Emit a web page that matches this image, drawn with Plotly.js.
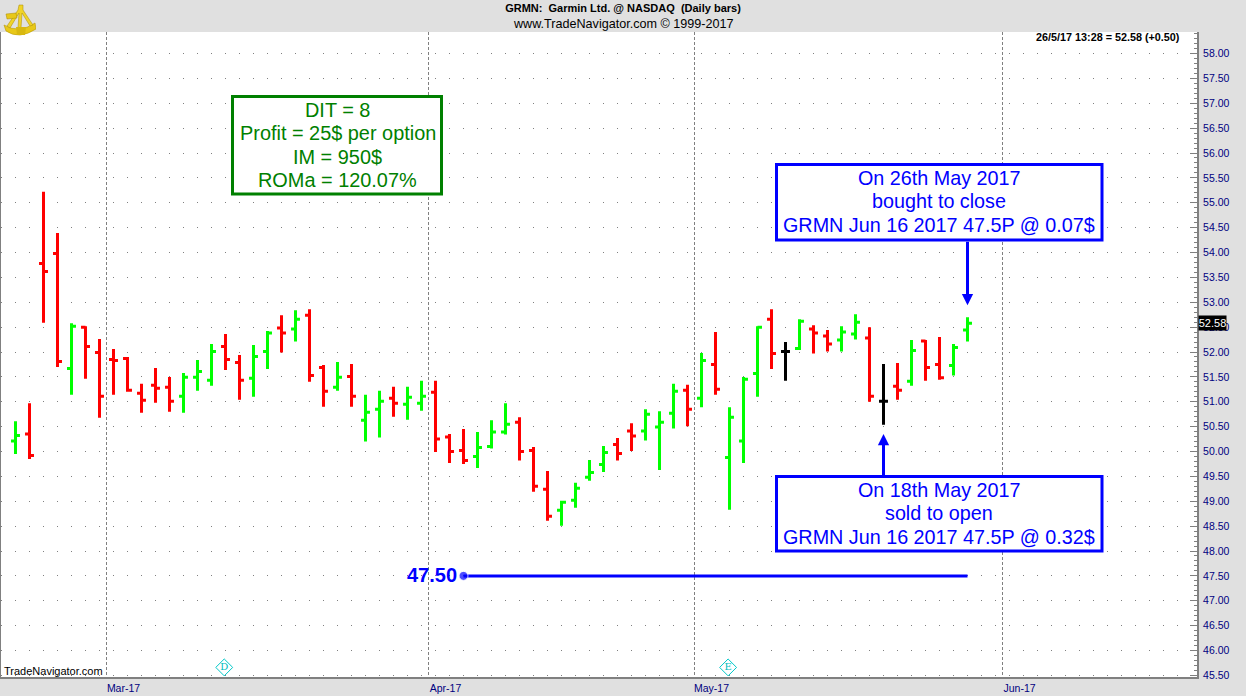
<!DOCTYPE html>
<html>
<head>
<meta charset="utf-8">
<script src="https://cdn.plot.ly/plotly-3.0.1.min.js"></script>
<style>html,body{margin:0;padding:0;background:#e0e0e0}#chart{width:1246px;height:696px}</style>
</head>
<body>
<div id="chart"></div>
<script>
// Daily bars, one per trading session, 0 = first bar on the chart
const opens = [50.21,50.35,53.78,53.98,51.67,52.50,51.99,51.85,51.87,51.17,51.33,51.29,51.11,51.49,51.43,52.11,51.79,51.47,52.01,52.48,52.46,52.74,51.69,51.29,51.51,50.63,50.85,51.07,50.95,50.97,51.19,50.29,50.02,49.90,50.10,50.39,50.59,50.02,49.24,48.82,49.02,49.48,49.74,50.14,50.41,50.41,50.49,50.77,51.23,51.07,51.75,49.88,50.21,51.57,52.66,52.01,52.07,52.46,52.32,52.24,52.36,52.28,51.01,51.31,51.41,52.22,51.75,51.73,52.44];
const highs = [50.61,50.97,55.22,54.39,52.58,52.52,52.26,52.06,51.90,51.36,51.68,51.50,51.58,51.84,52.16,52.36,51.94,52.14,52.42,52.74,52.84,52.86,51.74,51.80,51.76,51.14,51.22,51.30,51.30,51.42,51.42,50.35,50.45,50.39,50.63,50.97,50.69,50.09,49.61,49.01,49.37,49.83,50.11,50.27,50.57,50.85,50.81,51.36,51.34,51.98,52.40,50.89,51.50,52.52,52.86,52.20,52.66,52.54,52.44,52.52,52.76,52.50,51.76,51.78,52.24,52.24,52.30,52.16,52.70];
const lows = [49.95,49.85,52.59,51.70,51.14,51.46,50.68,51.14,51.20,50.78,50.98,50.80,50.78,51.22,51.32,51.64,51.04,51.10,51.66,51.99,52.21,51.40,50.90,51.22,50.90,50.20,50.28,50.70,50.64,50.82,49.99,49.77,49.75,49.67,50.06,50.34,49.82,49.19,48.61,48.51,48.87,49.41,49.59,49.82,50.01,50.22,49.63,50.46,50.51,50.89,51.14,48.83,49.77,51.10,51.66,51.42,52.04,51.97,52.01,52.01,52.25,51.00,50.54,51.04,51.32,51.42,51.44,51.53,52.21];
const closes = [50.32,49.92,53.62,51.81,52.52,52.11,51.11,51.83,51.23,51.03,51.27,51.01,51.49,51.61,52.01,51.85,51.43,51.91,52.38,52.38,52.66,51.53,51.21,51.49,51.11,50.79,51.01,50.97,51.09,51.11,50.25,50.00,49.82,50.08,50.39,50.55,50.00,49.30,48.70,48.98,49.26,49.58,49.98,49.96,50.31,50.75,50.59,51.21,50.85,51.83,51.25,50.69,51.45,52.50,51.97,52.01,52.62,52.38,52.16,52.40,52.60,51.11,51.01,51.23,52.03,51.69,51.48,52.09,52.58];

const monthTicks = [6.5, 29.5, 48.5, 70.5];
const monthLabels = ['Mar-17', 'Apr-17', 'May-17', 'Jun-17'];

const strikeX = [32, 68];
const strikeY = [47.5, 47.5];
const strikeLabel = '47.50';

const eventX = [14.91, 50.9];
const eventY = [45.66, 45.66];
const eventLabels = ['D', 'E'];

const greenLines = ['DIT = 8', 'Profit = 25$ per option', 'IM = 950$', 'ROMa = 120.07%'];
const closeLines = ['On 26th May 2017', 'bought to close', 'GRMN Jun 16 2017 47.5P @ 0.07$'];
const openLines = ['On 18th May 2017', 'sold to open', 'GRMN Jun 16 2017 47.5P @ 0.32$'];

const FONT = '"Liberation Sans", Arial, sans-serif';
const BG = '#e0e0e0', GRAY = '#808080', NAVY = '#000080', BLUE = '#0000ff', GREEN = '#008000';
const UP = '#00ff00', DOWN = '#ff0000';

// page pixel -> paper fraction, plot area spans x 1..1197, y 32..677
const PX = p => (p - 1) / 1196;
const PY = p => 1 - (p - 32) / 645;

const index = opens.map((_, i) => i);
function ohlcSubset(test, color, width) {
  const keep = index.filter(test);
  return {
    type: 'ohlc', x: keep, open: keep.map(i => opens[i]), high: keep.map(i => highs[i]),
    low: keep.map(i => lows[i]), close: keep.map(i => closes[i]),
    tickwidth: width, hoverinfo: 'skip', showlegend: false,
    increasing: {line: {color: color, width: 3}},
    decreasing: {line: {color: color, width: 3}}
  };
}

const traces = [
  ohlcSubset(i => closes[i] > opens[i], UP, 0.32),
  ohlcSubset(i => closes[i] < opens[i], DOWN, 0.32),
  ohlcSubset(i => closes[i] === opens[i], '#000000', 0.32),
  {type: 'scatter', mode: 'lines+markers', x: strikeX, y: strikeY, hoverinfo: 'skip', showlegend: false,
   line: {color: BLUE, width: 3}, marker: {color: BLUE, size: [9, 0]}},
  {type: 'scatter', mode: 'markers+text', x: eventX, y: eventY, text: eventLabels, textposition: 'middle center',
   textfont: {family: '"DejaVu Serif", serif', size: 10, color: '#00c0c0'}, hoverinfo: 'skip', showlegend: false,
   marker: {symbol: 'diamond-open', size: 13, color: '#00c8c8', line: {color: '#00c8c8', width: 1}}}
];

function box(x0, y0, x1, y1, color) {
  return {type: 'rect', xref: 'paper', yref: 'paper', x0: PX(x0), x1: PX(x1), y0: PY(y1), y1: PY(y0),
          fillcolor: '#ffffff', line: {color: color, width: 3}, layer: 'above'};
}
function label(text, px, py, size, color, opts) {
  return Object.assign({xref: 'paper', yref: 'paper', x: PX(px), y: PY(py), text: text, showarrow: false,
    xanchor: 'center', yanchor: 'middle', align: 'center', font: {family: FONT, size: size, color: color}}, opts || {});
}
function stacked(lines, px, rows, color, size) {
  return lines.map((t, i) => label(t, px, rows[i], size, color));
}

const sextant = `<svg xmlns="http://www.w3.org/2000/svg" width="34" height="34" viewBox="0 0 34 34">
<path d="M2 23 Q17 32 33 21 L34 27 Q17 38 4 29 Z" fill="#e8c818" stroke="#b89800" stroke-width=".6"/>
<path d="M17 3 L21 3 L21 8 L31 23 L28 24 L20 11 L19 26 L16 26 L17 11 L8 26 L5 24 L16 8 Z" fill="#f0d428" stroke="#a88800" stroke-width=".5"/>
<path d="M4 12 L14 11 L15 16 L5 17 Z" fill="#e8c818" stroke="#a88800" stroke-width=".5"/>
<path d="M14 25 L24 25 L23 33 L15 33 Z" fill="#d8b810"/>
</svg>`;

const layout = {
  width: 1246, height: 696,
  margin: {l: 1, r: 49, t: 32, b: 19, pad: 0},
  paper_bgcolor: BG, plot_bgcolor: '#ffffff',
  font: {family: FONT, size: 10.5, color: NAVY},
  showlegend: false, dragmode: false, hovermode: false,
  title: {text: '<b>GRMN:\u00a0\u00a0Garmin Ltd. @ NASDAQ\u00a0\u00a0(Daily bars)</b>', x: 623 / 1246, xanchor: 'center',
          y: 1 - 8 / 696, yanchor: 'middle', font: {family: FONT, size: 11, color: '#000000'}},
  xaxis: {
    type: 'linear', range: [(1 - 15.5) / 14, (1197 - 15.5) / 14], tickmode: 'array',
    tickvals: monthTicks, ticktext: monthLabels, ticklabelshift: 17, ticks: '',
    showgrid: true, gridcolor: GRAY, gridwidth: 1, griddash: '3px,2px', zeroline: false,
    showline: true, linecolor: GRAY, linewidth: 2, rangeslider: {visible: false},
    tickfont: {family: FONT, size: 10.5, color: NAVY}
  },
  yaxis: {
    side: 'right', range: [58 - (677 - 53.5) / 49.75, 58 + (53.5 - 32) / 49.75], tick0: 0, dtick: 0.5,
    tickformat: '.2f', ticks: 'inside', ticklen: 7, tickwidth: 1, tickcolor: GRAY,
    minor: {dtick: 0.1, ticks: 'inside', ticklen: 3, tickwidth: 1, tickcolor: GRAY, showgrid: false},
    showgrid: true, gridcolor: GRAY, gridwidth: 1, griddash: '1px,13px', zeroline: false,
    showline: true, linecolor: GRAY, linewidth: 2, ticklabelstandoff: 2,
    tickfont: {family: FONT, size: 10.5, color: NAVY}
  },
  shapes: [
    {type: 'line', xref: 'paper', yref: 'paper', x0: PX(0.5), x1: PX(0.5), y0: PY(679), y1: PY(32), line: {color: GRAY, width: 1}},
    box(232.5, 96.5, 441.5, 194, GREEN),
    box(776.5, 164.5, 1102, 240, BLUE),
    box(776.5, 476.5, 1102, 551, BLUE)
  ],
  images: [{source: 'data:image/svg+xml;charset=utf-8,' + encodeURIComponent(sextant), xref: 'paper', yref: 'paper',
            x: PX(2), y: PY(2), sizex: 34 / 1196, sizey: 34 / 645, xanchor: 'left', yanchor: 'top', sizing: 'stretch', layer: 'above'}],
  annotations: [
    label('www.TradeNavigator.com © 1999-2017', 623.5, 24, 12.6, '#000000'),
    label('<b>26/5/17 13:28 = 52.58 (+0.50)</b>', 1107.5, 37, 10.8, '#000000'),
    label('TradeNavigator.com', 53.5, 671, 11, '#000000'),
    ...stacked(greenLines, 337.5, [110, 133, 157, 180], GREEN, 19.9),
    ...stacked(closeLines, 939, [178, 201, 225], BLUE, 19.75),
    ...stacked(openLines, 939, [490, 513, 537], BLUE, 19.75),
    label('<b>' + strikeLabel + '</b>', 432, 575, 20, BLUE),
    label('52.58', 1212.5, 323, 11, '#ffffff', {bgcolor: '#000000', borderpad: 0, width: 27, height: 14}),
    {x: 68, y: 52.94, xref: 'x', yref: 'y', text: '', showarrow: true, axref: 'pixel', ayref: 'pixel', ax: 0, ay: -65,
     arrowcolor: BLUE, arrowwidth: 3, arrowhead: 2, arrowsize: 0.75},
    {x: 62, y: 50.35, xref: 'x', yref: 'y', text: '', showarrow: true, axref: 'pixel', ayref: 'pixel', ax: 0, ay: 44,
     arrowcolor: BLUE, arrowwidth: 3, arrowhead: 2, arrowsize: 0.75}
  ]
};

Plotly.newPlot('chart', traces, layout, {displayModeBar: false, staticPlot: true});
</script>
</body>
</html>
